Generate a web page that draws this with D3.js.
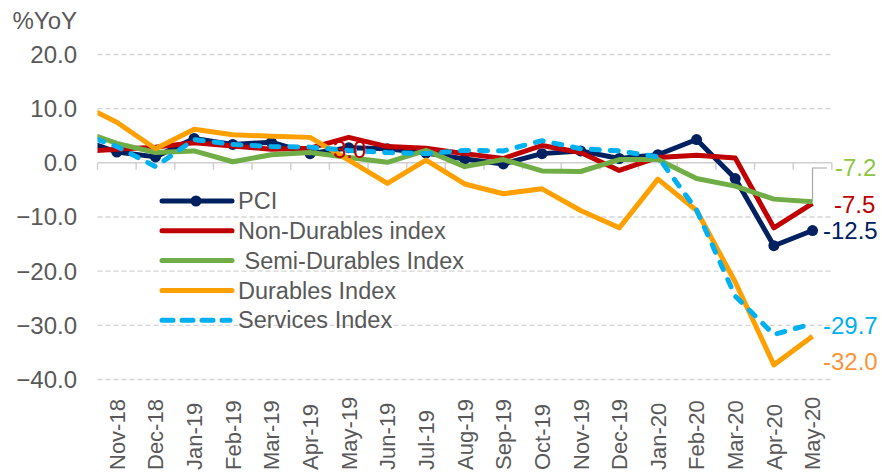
<!DOCTYPE html>
<html>
<head>
<meta charset="utf-8">
<script src="https://cdn.jsdelivr.net/npm/d3@7"></script>
<style>
  body { margin: 0; background: #fff; }
  svg { display: block; font-family: "Liberation Sans", Arial, sans-serif; }
</style>
</head>
<body>
<div id="chart"></div>
<script>
// first month sits just left of the plot edge; only its segment into Nov-18 shows
const months = ['Oct-18', 'Nov-18', 'Dec-18', 'Jan-19', 'Feb-19', 'Mar-19', 'Apr-19', 'May-19', 'Jun-19', 'Jul-19',
  'Aug-19', 'Sep-19', 'Oct-19', 'Nov-19', 'Dec-19', 'Jan-20', 'Feb-20', 'Mar-20', 'Apr-20', 'May-20'];
const shownMonths = months.slice(1);

const pci = [4.5, 2.0, 1.1, 4.5, 3.4, 3.8, 1.7, 2.8, 2.6, 1.8, 0.7, -0.2, 1.7, 2.2, 0.8, 1.5, 4.3, -2.9, -15.3, -12.5];
const nonDurables = [2.1, 2.5, 2.9, 3.7, 3.1, 2.5, 2.7, 4.7, 3.0, 2.7, 1.7, 0.8, 3.2, 1.9, -1.4, 1.0, 1.4, 0.9, -12.0, -7.5];
const semiDurables = [6.1, 3.6, 1.9, 2.2, 0.2, 1.5, 1.9, 1.0, 0.1, 2.3, -0.7, 0.6, -1.5, -1.6, 0.6, 0.6, -2.9, -4.3, -6.7, -7.2];
const durables = [11.1, 7.5, 2.6, 6.2, 5.2, 4.9, 4.7, 0.5, -3.8, 0.5, -3.9, -5.7, -4.8, -8.8, -12.0, -3.0, -8.8, -22.0, -37.3, -32.0];
const services = [5.6, 3.0, -0.7, 4.3, 3.4, 3.0, 2.9, 2.3, 1.9, 1.7, 2.3, 2.2, 4.1, 2.6, 2.2, 1.1, -8.7, -24.6, -31.7, -29.7];

const yTicks = [20, 10, 0, -10, -20, -30, -40];

const seriesList = [
  { name: 'PCI', values: pci, color: '#002060', dots: true },
  { name: 'Non-Durables index', values: nonDurables, color: '#c00000' },
  { name: ' Semi-Durables Index', values: semiDurables, color: '#70ad47' },
  { name: 'Durables Index', values: durables, color: '#ffa000' },
  { name: 'Services Index', values: services, color: '#00b0f0', dashed: true }
];

// end labels: value shown, colour, offset of label
const endLabels = [
  { text: '-7.2', color: '#8cc63f', x: 835, y: 168 },
  { text: '-7.5', color: '#c00000', x: 834, y: 205 },
  { text: '-12.5', color: '#002060', x: 823, y: 231 },
  { text: '-29.7', color: '#00b0f0', x: 823, y: 326 },
  { text: '-32.0', color: '#f9963c', x: 823, y: 362 }
];

const width = 882;
const height = 472;
const left = 97.5;
const step = 38.65;
const right = left + shownMonths.length * step;

const svg = d3.select('#chart').append('svg').attr('width', width).attr('height', height);

const x = d3.scaleBand().domain(months).range([left - step, right]);
const y = d3.scaleLinear().domain([-40, 20]).range([379.5, 54.5]);
const cx = (m) => x(m) + x.bandwidth() / 2;

// gridlines
svg.append('g')
  .selectAll('line')
  .data(yTicks.filter((d) => d !== 0))
  .enter()
  .append('line')
  .attr('x1', left)
  .attr('x2', right)
  .attr('y1', (d) => y(d))
  .attr('y2', (d) => y(d))
  .attr('stroke', '#d4d4d4')
  .attr('stroke-width', 1.4)
  .attr('stroke-dasharray', '5,3');

// zero axis with category tick marks
const axisG = svg.append('g').attr('transform', `translate(0, ${y(0)})`);
axisG.append('line').attr('x1', left).attr('x2', right).attr('stroke', '#d0d0d0').attr('stroke-width', 1.5);
axisG.selectAll('.tick')
  .data(shownMonths.concat(['end']))
  .enter()
  .append('line')
  .attr('x1', (d, i) => left + i * step)
  .attr('x2', (d, i) => left + i * step)
  .attr('y1', 0)
  .attr('y2', 7)
  .attr('stroke', '#d0d0d0')
  .attr('stroke-width', 1.5);

// y labels
svg.append('g')
  .selectAll('text')
  .data(yTicks)
  .enter()
  .append('text')
  .attr('x', 77)
  .attr('y', (d) => y(d))
  .attr('dy', '0.35em')
  .attr('text-anchor', 'end')
  .attr('font-size', 24)
  .attr('fill', '#595959')
  .text((d) => d3.format('.1f')(d));

svg.append('text')
  .attr('x', 77).attr('y', 29)
  .attr('text-anchor', 'end')
  .attr('font-size', 24)
  .attr('fill', '#595959')
  .text('%YoY');

// x labels
svg.append('g')
  .selectAll('text')
  .data(shownMonths)
  .enter()
  .append('text')
  .attr('transform', (d) => `translate(${cx(d)}, 470) rotate(-90)`)
  .attr('dy', '0.36em')
  .attr('font-size', 22)
  .attr('fill', '#595959')
  .text((d) => d);

// lines
svg.append('clipPath').attr('id', 'plot')
  .append('rect').attr('x', left).attr('y', 0).attr('width', right - left + 20).attr('height', height);

const line = d3.line().x((d, i) => cx(months[i])).y((d) => y(d));
const plot = svg.append('g').attr('clip-path', 'url(#plot)');

seriesList.forEach((s) => {
  plot.append('path')
    .datum(s.values)
    .attr('d', line)
    .attr('fill', 'none')
    .attr('stroke', s.color)
    .attr('stroke-width', 5)
    .attr('stroke-linejoin', 'round')
    .attr('stroke-linecap', s.dashed ? 'round' : 'butt')
    .attr('stroke-dasharray', s.dashed ? '8,11' : null);
  if (s.dots) {
    plot.selectAll('.dot')
      .data(s.values)
      .enter()
      .append('circle')
      .attr('cx', (d, i) => cx(months[i]))
      .attr('cy', (d) => y(d))
      .attr('r', 5.5)
      .attr('fill', s.color);
  }
});

// stray data label on May-19
svg.append('text')
  .attr('x', 333).attr('y', 158)
  .attr('font-size', 24)
  .attr('fill', '#c00000')
  .text('3.0');

// leader line for the semi-durables label
const lastX = cx(months[months.length - 1]);
svg.append('path')
  .attr('d', `M${lastX},${y(-7.2)}V168H827`)
  .attr('fill', 'none')
  .attr('stroke', '#a6a6a6')
  .attr('stroke-width', 1.2);

svg.append('g')
  .selectAll('text')
  .data(endLabels)
  .enter()
  .append('text')
  .attr('x', (d) => d.x)
  .attr('y', (d) => d.y)
  .attr('dy', '0.35em')
  .attr('font-size', 24)
  .attr('fill', (d) => d.color)
  .text((d) => d.text);

// legend
const legend = svg.append('g').attr('transform', 'translate(160, 201)');
const item = legend.selectAll('g')
  .data(seriesList)
  .enter()
  .append('g')
  .attr('transform', (d, i) => `translate(0, ${i * 29.8})`);

item.append('line')
  .attr('x1', 2).attr('x2', (d) => d.dashed ? 70 : 72)
  .attr('stroke', (d) => d.color)
  .attr('stroke-width', 5)
  .attr('stroke-linecap', 'round')
  .attr('stroke-dasharray', (d) => d.dashed ? '11,9' : null);

item.filter((d) => d.dots)
  .append('circle')
  .attr('cx', 36).attr('r', 5.5)
  .attr('fill', (d) => d.color);

item.append('text')
  .attr('x', 78)
  .attr('dy', '0.35em')
  .attr('font-size', 23.5)
  .attr('fill', '#595959')
  .attr('xml:space', 'preserve')
  .style('white-space', 'pre')
  .text((d) => d.name);
</script>
</body>
</html>
